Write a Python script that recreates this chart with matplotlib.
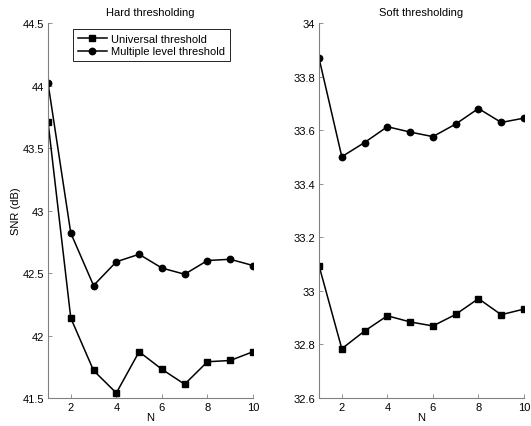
import numpy as np
import matplotlib
matplotlib.use("Agg")
import matplotlib.pyplot as plt
from matplotlib.ticker import FuncFormatter

plt.rcParams['font.family'] = ['Liberation Sans', 'DejaVu Sans']
plt.rcParams['font.size'] = 8

# Data
n = [1, 2, 3, 4, 5, 6, 7, 8, 9, 10]
hard_universal = [43.71, 42.14, 41.72, 41.54, 41.87, 41.73, 41.61, 41.79, 41.80, 41.87]
hard_multiple = [44.02, 42.82, 42.40, 42.59, 42.65, 42.54, 42.49, 42.60, 42.61, 42.56]
soft_universal = [33.094, 32.784, 32.85, 32.907, 32.884, 32.869, 32.912, 32.971, 32.911, 32.932]
soft_multiple = [33.869, 33.501, 33.554, 33.613, 33.593, 33.576, 33.623, 33.681, 33.629, 33.645]

hard_yticks = [41.5, 42, 42.5, 43, 43.5, 44, 44.5]
soft_yticks = [32.6, 32.8, 33, 33.2, 33.4, 33.6, 33.8, 34]
xticks = [2, 4, 6, 8, 10]

fig = plt.figure(figsize=(5.31, 4.27), dpi=100)
ax1 = fig.add_axes([0.0904, 0.0656, 0.386, 0.878])
ax2 = fig.add_axes([0.6008, 0.0656, 0.386, 0.878])

axis_gray = '#808080'
gfmt = FuncFormatter(lambda v, p: '%g' % round(v, 4))


def style_axes(ax, yticks):
    ax.set_xlim(1, 10)
    ax.set_ylim(yticks[0], yticks[-1])
    ax.set_xticks(xticks)
    ax.set_yticks(yticks)
    ax.yaxis.set_major_formatter(gfmt)
    ax.spines['top'].set_visible(False)
    ax.spines['right'].set_visible(False)
    for s in ['left', 'bottom']:
        ax.spines[s].set_color(axis_gray)
        ax.spines[s].set_linewidth(0.8)
    ax.tick_params(direction='in', length=3, width=0.6, color=axis_gray,
                   labelcolor='black', labelsize=8, pad=3)
    ax.set_xlabel('N', fontsize=8, labelpad=0)


ax1.plot(n, hard_universal, color='black', marker='s', markersize=4.2,
         linewidth=1.1, label='Universal threshold')
ax1.plot(n, hard_multiple, color='black', marker='o', markersize=4.6,
         linewidth=1.1, label='Multiple level threshold')
style_axes(ax1, hard_yticks)
ax1.set_title('Hard thresholding', fontsize=8, pad=6)
ax1.set_ylabel('SNR (dB)', fontsize=8, labelpad=1)
leg = ax1.legend(loc='upper left', bbox_to_anchor=(0.122, 0.985), fontsize=8,
                 fancybox=False, framealpha=1, edgecolor='black',
                 borderpad=0.45, labelspacing=0.25, handlelength=2.6,
                 handletextpad=0.4, borderaxespad=0)
leg.get_frame().set_linewidth(0.6)

ax2.plot(n, soft_universal, color='black', marker='s', markersize=4.2,
         linewidth=1.1)
ax2.plot(n, soft_multiple, color='black', marker='o', markersize=4.6,
         linewidth=1.1)
style_axes(ax2, soft_yticks)
ax2.set_title('Soft thresholding', fontsize=8, pad=6)

fig.savefig('out.png', dpi=100)
